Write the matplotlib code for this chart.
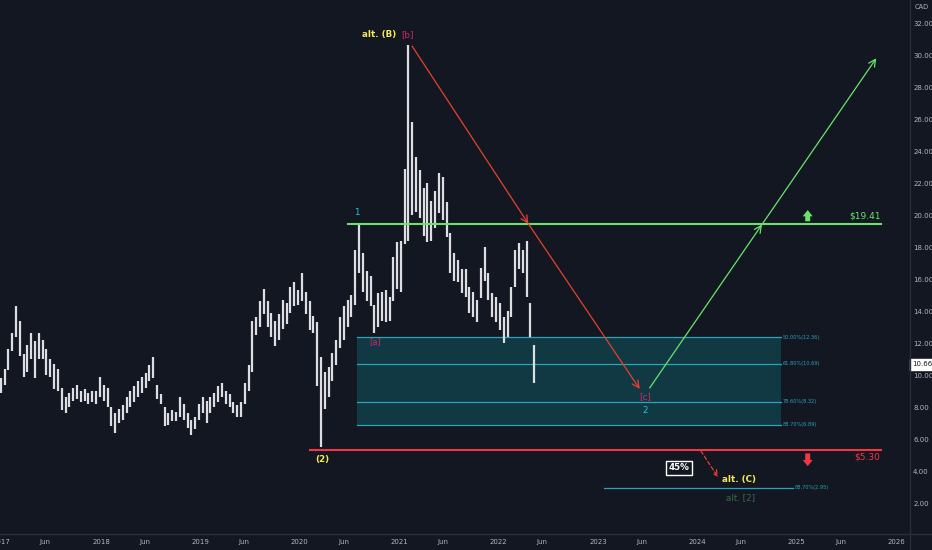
import matplotlib
matplotlib.use("Agg")
import matplotlib.pyplot as plt
from matplotlib.lines import Line2D
from matplotlib.patches import Rectangle
import numpy as np
import pandas as pd

# ---------------- data ----------------
bar_start = "2016-12-29"
bar_freq = "14D"
highs = [9.8, 10.4, 11.6, 12.6, 14.3, 13.4, 11.3, 11.9, 12.6, 12.1,
         12.6, 12.2, 11.6, 11.0, 10.7, 10.4, 9.2, 8.6, 8.9, 9.2,
         9.4, 9.0, 9.1, 8.9, 9.0, 9.0, 9.9, 9.4, 9.2, 8.0,
         7.6, 7.9, 8.1, 8.6, 9.0, 9.3, 9.6, 9.9, 10.1, 10.6,
         11.1, 9.4, 8.8, 8.0, 7.6, 7.8, 7.7, 8.6, 8.2, 7.6,
         7.2, 7.4, 8.2, 8.6, 8.4, 8.6, 8.9, 9.3, 9.5, 9.0,
         8.8, 8.3, 8.1, 8.3, 9.5, 10.6, 13.4, 13.6, 14.6, 15.4,
         14.6, 13.9, 13.4, 13.8, 14.7, 14.5, 15.5, 15.8, 15.3, 16.4,
         15.2, 14.6, 13.7, 13.3, 11.1, 10.2, 10.5, 11.4, 12.2, 13.6,
         14.3, 14.7, 15.0, 17.8, 19.4, 17.6, 16.5, 16.2, 14.4, 15.1,
         15.2, 15.3, 14.9, 17.4, 18.3, 18.4, 22.9, 30.6, 25.8, 23.6,
         22.8, 21.7, 22.0, 20.9, 21.5, 22.6, 22.4, 20.8, 18.9, 17.6,
         17.2, 16.6, 16.6, 15.5, 15.2, 14.7, 16.7, 18.0, 16.4, 15.1,
         14.9, 14.5, 13.6, 14.0, 15.5, 17.8, 18.25, 17.8, 18.4, 14.5,
         11.9]
lows = [8.9, 9.4, 10.3, 11.5, 12.4, 11.2, 9.9, 10.2, 11.0, 9.8,
        11.0, 11.0, 10.0, 9.9, 9.1, 9.0, 7.8, 7.6, 8.0, 8.4,
        8.5, 8.3, 8.4, 8.2, 8.3, 8.2, 8.6, 8.4, 8.0, 6.8,
        6.4, 7.0, 7.2, 7.6, 8.0, 8.3, 8.6, 8.9, 9.2, 9.6,
        9.8, 8.5, 8.2, 6.8, 6.9, 7.1, 7.1, 7.4, 7.2, 6.7,
        6.25, 6.6, 7.2, 7.6, 7.0, 7.6, 8.0, 8.3, 8.6, 8.2,
        8.0, 7.6, 7.4, 7.4, 8.2, 9.0, 10.2, 12.5, 13.0, 13.8,
        13.0, 12.4, 11.8, 12.2, 12.9, 13.2, 13.9, 14.3, 14.4, 14.6,
        13.8, 12.8, 12.6, 9.3, 5.5, 7.9, 8.6, 9.6, 10.6, 11.7,
        12.2, 13.0, 13.6, 14.4, 16.4, 15.2, 14.6, 14.3, 12.6, 13.0,
        13.4, 13.3, 13.4, 14.6, 15.4, 15.2, 18.2, 18.4, 20.0, 20.2,
        19.8, 18.7, 18.3, 18.4, 19.2, 20.1, 19.7, 18.6, 16.4, 15.9,
        15.8, 15.1, 14.9, 13.9, 13.6, 13.3, 14.8, 15.9, 14.7, 13.6,
        13.3, 12.8, 12.0, 12.4, 13.6, 15.5, 16.6, 16.4, 14.9, 12.4,
        9.5]
last_price = 10.66
resistance = 19.41
support = 5.30
fib_levels = [12.36, 10.69, 8.32, 6.89]
fib_labels = ["50.00%(12.36)", "61.80%(10.69)", "78.60%(8.32)", "88.70%(6.89)"]
alt_fib_level = 2.95
alt_fib_label = "88.70%(2.95)"
year_ticks = [2017, 2018, 2019, 2020, 2021, 2022, 2023, 2024, 2025, 2026]
year_labels = ["2017", "2018", "2019", "2020", "2021", "2022", "2023", "2024", "2025", "2026"]
price_ticks = [2, 4, 6, 8, 10, 12, 14, 16, 18, 20, 22, 24, 26, 28, 30, 32]

# wave path points (decimal year, price)
red_path_t = [2021.13, 2022.30, 2023.42]
red_path_v = [30.56, 19.45, 9.13]
green_path_t = [2023.52, 2024.65, 2025.80]
green_path_v = [9.19, 19.41, 29.8]

dates = pd.date_range(bar_start, periods=len(highs), freq=bar_freq)
t = np.asarray(dates.year + (dates.dayofyear - 1) / 365.25, dtype=float)

# ---------------- style ----------------
BG = "#131722"
TXT = "#b2b5be"
GREEN = "#6be36b"
RED = "#f23645"
ARROW_RED = "#e8402f"
TEAL = "#26c6da"
PINK = "#d4266c"
YEL = "#f3e95a"
FILL = "#113b47"
FIBLINE = "#2ba3b8"

plt.rcParams["font.family"] = ["DejaVu Sans"]

W, H = 932, 550
fig = plt.figure(figsize=(W / 100, H / 100), dpi=100, facecolor=BG)
ax = fig.add_axes([0, 17 / H, 909 / W, 533 / H])
ax.set_facecolor(BG)
ax.set_xlim(2016.984, 2026.129)
ax.set_ylim(0.125, 33.44)
for s in ax.spines.values():
    s.set_visible(False)

# price bars
ax.vlines(t, lows, highs, color="#dcdee2", lw=1.6, zorder=3)

# fib box
x0f, x1f = 2020.58, 2024.845
ax.add_patch(Rectangle((x0f, fib_levels[-1]), x1f - x0f, fib_levels[0] - fib_levels[-1],
                       facecolor=FILL, edgecolor="none", alpha=0.95, zorder=1))
for lv, lb in zip(fib_levels, fib_labels):
    ax.plot([x0f, x1f], [lv, lv], color=FIBLINE, lw=0.9, zorder=2)
    ax.text(x1f + 0.01, lv, lb, color=FIBLINE, fontsize=3.6, va="center", ha="left", zorder=5)
ax.plot([2023.06, 2024.96], [alt_fib_level] * 2, color=FIBLINE, lw=0.9, zorder=2)
ax.text(2024.98, alt_fib_level, alt_fib_label, color=FIBLINE, fontsize=3.6, va="center", ha="left")

# horizontal levels
ax.plot([2020.487, 2025.85], [resistance] * 2, color=GREEN, lw=1.5, zorder=4)
ax.plot([2020.10, 2025.85], [support] * 2, color=RED, lw=1.5, zorder=4)
ax.text(2025.84, resistance + 0.5, f"${resistance:.2f}", color=GREEN, fontsize=6.5,
        ha="right", va="center")
ax.text(2025.84, support - 0.45, f"${support:.2f}", color=RED, fontsize=6.5,
        ha="right", va="center")
arrow_style = "simple,head_width=0.8,head_length=0.5,tail_width=0.4"
ax.annotate("", xy=(2025.11, resistance + 0.9), xytext=(2025.11, resistance + 0.2),
            arrowprops=dict(arrowstyle=arrow_style, color=GREEN, lw=0, mutation_scale=9,
                            shrinkA=0, shrinkB=0))
ax.annotate("", xy=(2025.11, support - 1.0), xytext=(2025.11, support - 0.2),
            arrowprops=dict(arrowstyle=arrow_style, color=RED, lw=0, mutation_scale=9,
                            shrinkA=0, shrinkB=0))

# wave arrows
for i in range(len(red_path_t) - 1):
    ax.annotate("", xy=(red_path_t[i + 1], red_path_v[i + 1]), xytext=(red_path_t[i], red_path_v[i]),
                arrowprops=dict(arrowstyle="->,head_width=0.25,head_length=0.5", color=ARROW_RED,
                                lw=0.9, shrinkA=0, shrinkB=0), zorder=6)
for i in range(len(green_path_t) - 1):
    ax.annotate("", xy=(green_path_t[i + 1], green_path_v[i + 1]),
                xytext=(green_path_t[i], green_path_v[i]),
                arrowprops=dict(arrowstyle="->,head_width=0.25,head_length=0.5", color=GREEN,
                                lw=0.9, shrinkA=0, shrinkB=0), zorder=6)
ax.annotate("", xy=(2024.207, 3.62), xytext=(2024.036, 5.25),
            arrowprops=dict(arrowstyle="->,head_width=0.2,head_length=0.4", color=ARROW_RED,
                            lw=0.9, ls=(0, (3, 2)), shrinkA=0, shrinkB=0))

# wave labels
ax.text(2021.005, 31.3, "alt. (B) ", color=YEL, fontsize=6.3, fontweight="bold", ha="right", va="center")
ax.text(2021.02, 31.3, "[b]", color=PINK, fontsize=6.3, ha="left", va="center")
ax.text(2020.576, 20.15, "1", color=TEAL, fontsize=6.3, ha="center", va="center")
ax.text(2020.757, 12.06, "[a]", color=PINK, fontsize=6, ha="center", va="center", zorder=6)
ax.text(2020.225, 4.69, "(2)", color=YEL, fontsize=6.3, fontweight="bold", ha="center", va="center")
ax.text(2023.473, 8.62, "[c]", color=PINK, fontsize=6.3, ha="center", va="center", zorder=6)
ax.text(2023.473, 7.81, "2", color=TEAL, fontsize=6.3, ha="center", va="center", zorder=6)
ax.text(2023.815, 4.19, "45%", color="white", fontsize=6.3, fontweight="bold", ha="center", va="center",
        bbox=dict(boxstyle="square,pad=0.25", facecolor=BG, edgecolor="white", lw=1.0))
ax.text(2024.418, 3.5, "alt. (C)", color=YEL, fontsize=6.3, fontweight="bold", ha="center", va="center")
ax.text(2024.43, 2.35, "alt. [2]", color="#3a6b45", fontsize=6.3, ha="center", va="center")

# axes ticks
ax.yaxis.tick_right()
ax.set_yticks(price_ticks)
ax.set_yticklabels([f"{v:.2f}" for v in price_ticks])
xt = []
xl = []
for y, lab in zip(year_ticks, year_labels):
    xt.append(y)
    xl.append(lab)
    if y < 2026:
        xt.append(y + 0.44)
        xl.append("Jun")
ax.set_xticks(xt)
ax.set_xticklabels(xl)
ax.tick_params(axis="both", length=0, colors=TXT, labelsize=5.0)
ax.tick_params(axis="y", pad=3)
ax.tick_params(axis="x", pad=4)

# current price label
ax.text(1.0 + 3 / 909, last_price, f"{last_price:.2f}", transform=ax.get_yaxis_transform(),
        color="#131722", fontsize=5.0, ha="left", va="center", zorder=10, clip_on=False,
        bbox=dict(boxstyle="square,pad=0.3", facecolor="white", edgecolor="white"))
fig.text(915 / W, 1 - 7 / H, "CAD", color=TXT, fontsize=4.8, ha="left", va="center")

# separators
fig.add_artist(Line2D([909.5 / W] * 2, [0, 1], color="#2a2e39", lw=1.0))
fig.add_artist(Line2D([0, 1], [1 - 533.5 / H] * 2, color="#2a2e39", lw=1.0))

fig.savefig("out.png", dpi=100, facecolor=BG)
